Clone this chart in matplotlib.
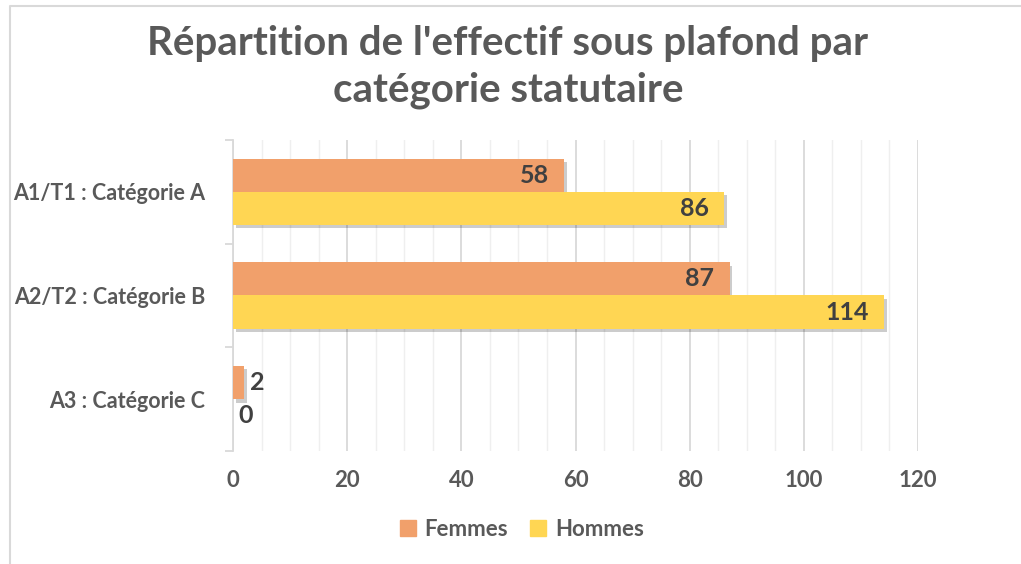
import matplotlib.pyplot as plt
import matplotlib.patheffects as pe
from matplotlib.lines import Line2D
from matplotlib.patches import Patch
from matplotlib.ticker import MultipleLocator, FixedLocator

categories = ["A1/T1 : Catégorie A", "A2/T2 : Catégorie B", "A3 : Catégorie C"]
femmes = [58, 87, 2]
hommes = [86, 114, 0]
series_names = ["Femmes", "Hommes"]
xticks = [0, 20, 40, 60, 80, 100, 120]

plt.rcParams['font.family'] = ['Lato', 'DejaVu Sans']
c_f = "#F1A06B"
c_h = "#FFD653"
grey = "#595959"

fig = plt.figure(figsize=(10.21, 5.64), dpi=100)
ax = fig.add_axes([233/1021, 1-451/564, (918-233)/1021, (451-140)/564])

# chart border (only top and left visible in the crop)
fig.lines.append(Line2D([9.5/1021, 9.5/1021, 1.0], [0.0, 1-5.5/564, 1-5.5/564],
                        transform=fig.transFigure, color="#d9d9d9", lw=1.5))

ypos = [2, 1, 0]
h = 0.32
shadow = [pe.SimplePatchShadow(offset=(2, -2.5), shadow_rgbFace="#000000", alpha=0.2), pe.Normal()]
bf = ax.barh([y + h/2 for y in ypos], femmes, height=h, color=c_f, zorder=3)
bh = ax.barh([y - h/2 for y in ypos], hommes, height=h, color=c_h, zorder=3)
for bars, vals in ((bf, femmes), (bh, hommes)):
    for b, v in zip(bars, vals):
        if v > 0:
            b.set_path_effects(shadow)
        yc = b.get_y() + b.get_height()/2
        if v >= 10:
            ax.annotate(str(v), (v, yc), xytext=(-11, 0), textcoords="offset points",
                        ha="right", va="center", fontsize=18, fontweight="bold", color="#404040", zorder=5)
        else:
            ax.annotate(str(v), (v, yc), xytext=(4, 0), textcoords="offset points",
                        ha="left", va="center", fontsize=18, fontweight="bold", color="#404040", zorder=5)

ax.set_xlim(0, 120)
ax.set_ylim(-0.5, 2.5)
ax.set_xticks(xticks)
ax.xaxis.set_minor_locator(MultipleLocator(5))
ax.grid(axis="x", which="major", color="#d9d9d9", lw=1.3, zorder=0)
ax.grid(axis="x", which="minor", color="#efefef", lw=1.0, zorder=0)
ax.tick_params(axis="x", which="both", length=0, pad=14, labelsize=16, labelcolor=grey)
for t in ax.get_xticklabels():
    t.set_fontweight("bold")

ax.yaxis.set_major_locator(FixedLocator([-0.5, 0.5, 1.5, 2.5]))
ax.yaxis.set_minor_locator(FixedLocator(ypos))
ax.set_yticklabels([], minor=False)
ax.set_yticks(ypos, categories, minor=True)
ax.tick_params(axis="y", which="major", length=6, color="#d9d9d9", width=1.3)
ax.tick_params(axis="y", which="minor", length=0, pad=20, labelsize=15.5, labelcolor=grey)
for t in ax.get_yticklabels(minor=True):
    t.set_fontweight("bold")

for s in ("top", "right", "bottom"):
    ax.spines[s].set_visible(False)
ax.spines["left"].set_color("#d9d9d9")
ax.spines["left"].set_linewidth(1.3)

fig.text(508/1021, 1-67/564, "Répartition de l'effectif sous plafond par\ncatégorie statutaire",
         ha="center", va="center", fontsize=29, fontweight="bold", color=grey, linespacing=1.32)

handles = [Patch(color=c_f), Patch(color=c_h)]
leg = fig.legend(handles=handles, labels=series_names, loc="center", bbox_to_anchor=(522/1021, 1-529/564),
                 ncol=2, frameon=False, handlelength=0.7, handleheight=0.7,
                 handletextpad=0.4, columnspacing=1.0, prop={"weight": "bold", "size": 16})
for t in leg.get_texts():
    t.set_color(grey)

fig.savefig("out.png", dpi=100)
